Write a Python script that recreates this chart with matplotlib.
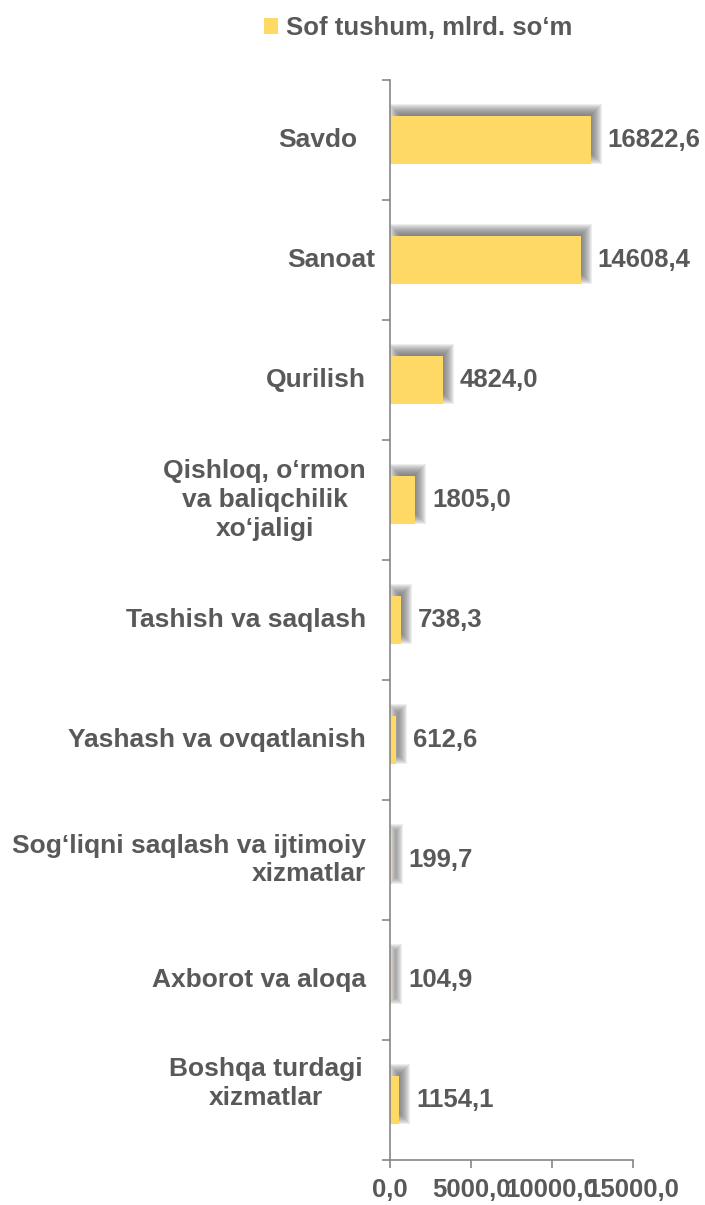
import matplotlib
matplotlib.use("Agg")
import matplotlib.pyplot as plt
from matplotlib.patches import Patch

categories = [
    "Savdo",
    "Sanoat",
    "Qurilish",
    "Qishloq, o\u2018rmon\nva baliqchilik\nxo\u2018jaligi",
    "Tashish va saqlash",
    "Yashash va ovqatlanish",
    "Sog\u2018liqni saqlash va ijtimoiy\nxizmatlar",
    "Axborot va aloqa",
    "Boshqa turdagi\nxizmatlar",
]
# bar lengths as drawn in the picture
bar_lengths = [12390, 11770, 3250, 1540, 680, 370, 110, 70, 575]
# the printed data labels
value_labels = ["16822,6", "14608,4", "4824,0", "1805,0", "738,3",
                "612,6", "199,7", "104,9", "1154,1"]
x_ticks = [0, 5000, 10000, 15000]
x_tick_labels = ["0,0", "5000,0", "10000,0", "15000,0"]
legend_label = "Sof tushum, mlrd. so\u2018m"

BAR = "#FFD966"
TXT = "#595959"
AXC = "#868686"
FS = 18.5
FS_CAT = 19

plt.rcParams["font.family"] = ["Liberation Sans", "DejaVu Sans"]
plt.rcParams["font.weight"] = "bold"

fig = plt.figure(figsize=(7.05, 12.05), dpi=100)
ax = fig.add_axes([390 / 705, 1 - 1160 / 1205, 243 / 705, 1080 / 1205])
ax.set_xlim(0, 15000)
ax.set_ylim(len(categories) - 0.5, -0.5)

pos = list(range(len(categories)))
bar_h = 0.4

# soft drop shadow: stacked translucent copies of each bar, grown/shrunk pixel by pixel
px_x = 15000 / 243   # data units per pixel, x
px_y = 1 / 120       # data units per pixel, y
sh_dx, sh_dy = 5, 6  # shadow offset in pixels (right, up)
for e in range(-6, 7):
    lefts, widths, ys = [], [], []
    for i, v in enumerate(bar_lengths):
        w = v + 2 * e * px_x
        if w <= 0:
            continue
        lefts.append(sh_dx * px_x - e * px_x)
        widths.append(w)
        ys.append(i - sh_dy * px_y)
    h = bar_h + 2 * e * px_y
    if widths:
        ax.barh(ys, widths, left=lefts, height=h, color="#5f5f5f", alpha=0.1,
                linewidth=0, zorder=1)

bars = ax.barh(pos, bar_lengths, height=bar_h, color=BAR, linewidth=0, zorder=2)

# value labels just past the end of each bar
for i, (v, lab) in enumerate(zip(bar_lengths, value_labels)):
    ax.annotate(lab, xy=(v, i), xytext=(12.3, 0), textcoords="offset points",
                ha="left", va="center", fontsize=FS, fontweight="bold", color=TXT)

# category labels (left of the axis)
lab_dx = [-23.5, -10.8, -17.3, -17.3, -17.3, -17.3, -17.3, -17.3, -19.4]
lab_dy = [0, 0, 0, 0, 0, 0, 0, 0, 12]
lab_align = ["right", "right", "right", "center", "right", "right", "right", "right", "center"]
for i, name in enumerate(categories):
    ax.annotate(name, xy=(0, i), xytext=(lab_dx[i], lab_dy[i]), textcoords="offset points",
                ha="right", va="center", multialignment=lab_align[i], linespacing=1.25,
                fontsize=FS_CAT, fontweight="bold", color=TXT, annotation_clip=False)

ax.set_yticks([i + 0.5 for i in range(-1, len(categories))])
ax.set_yticklabels([])
ax.set_xticks(x_ticks)
ax.set_xticklabels(x_tick_labels, fontsize=FS, fontweight="bold", color=TXT)
ax.tick_params(axis="both", direction="out", length=5.8, width=1.2, color=AXC)
ax.tick_params(axis="x", pad=7)

for s in ["top", "right"]:
    ax.spines[s].set_visible(False)
for s in ["left", "bottom"]:
    ax.spines[s].set_color(AXC)
    ax.spines[s].set_linewidth(1.2)
    ax.spines[s].set_zorder(3)

fig.legend(handles=[Patch(facecolor=BAR, edgecolor="none", label=legend_label)],
           loc="center", bbox_to_anchor=(418 / 705, 1 - 28 / 1205), frameon=False,
           prop={"size": FS, "weight": "bold"}, labelcolor=TXT,
           handlelength=0.55, handleheight=0.55, handletextpad=0.3)

fig.savefig("out.png", dpi=100)
